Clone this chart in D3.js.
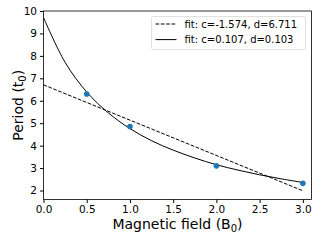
<!DOCTYPE html>
<html>
<head>
<meta charset="utf-8">
<title>Period vs field</title>
<script src="https://cdn.jsdelivr.net/npm/d3@7"></script>
<style>
  body { margin: 0; background: #fff; }
  svg text { font-family: "DejaVu Sans", sans-serif; fill: #000; }
  .tick text { font-size: 10.5px; }
  .tick line { stroke: #000; }
  .domain { display: none; }
</style>
</head>
<body>
<div id="chart"></div>
<script>
// measured points
var fieldB = [0.5, 1.0, 2.0, 3.0];
var periodT = [6.3, 4.85, 3.1, 2.32];

// fit 1 (dashed, linear) read at the ends
var linX = [0, 3.0];
var linY = [6.71, 1.99];

// fit 2 (solid)
var curveX = [0, 0.25, 0.5, 0.75, 1.0, 1.25, 1.5, 1.75, 2.0, 2.25, 2.5, 2.75, 3.0];
var curveY = [9.71, 7.71, 6.39, 5.46, 4.76, 4.22, 3.8, 3.45, 3.15, 2.91, 2.7, 2.52, 2.36];

var legendLabels = ['fit: c=-1.574, d=6.711', 'fit: c=0.107, d=0.103'];
var xTicks = [0, 0.5, 1.0, 1.5, 2.0, 2.5, 3.0];
var yTicks = [2, 3, 4, 5, 6, 7, 8, 9, 10];

var width = 321, height = 241;
var margin = { left: 43.5, top: 11, right: 9.5, bottom: 41.5 };
var w = width - margin.left - margin.right;
var h = height - margin.top - margin.bottom;

var svg = d3.select('#chart').append('svg')
    .attr('width', width).attr('height', height);
var g = svg.append('g')
    .attr('transform', 'translate(' + margin.left + ',' + margin.top + ')');

var x = d3.scaleLinear().domain([0, 3.1]).range([0, w]);
var y = d3.scaleLinear().domain([1.6, 10.0]).range([h, 0]);

g.append('g')
    .attr('transform', 'translate(0,' + h + ')')
    .call(d3.axisBottom(x).tickValues(xTicks).tickFormat(d3.format('.1f')).tickSize(3.5).tickPadding(3));
g.append('g')
    .call(d3.axisLeft(y).tickValues(yTicks).tickFormat(d3.format('d')).tickSize(3.5).tickPadding(3));

var line = d3.line()
    .x(function(d) { return x(d[0]); })
    .y(function(d) { return y(d[1]); });

g.append('path')
    .datum(linX.map(function(v, i) { return [v, linY[i]]; }))
    .attr('d', line)
    .attr('fill', 'none').attr('stroke', '#000')
    .attr('stroke-width', 1).attr('stroke-dasharray', '3.7,1.6');

g.append('path')
    .datum(curveX.map(function(v, i) { return [v, curveY[i]]; }))
    .attr('d', line.curve(d3.curveCatmullRom))
    .attr('fill', 'none').attr('stroke', '#000')
    .attr('stroke-width', 1);

g.selectAll('circle')
    .data(fieldB)
    .enter().append('circle')
    .attr('cx', function(d) { return x(d); })
    .attr('cy', function(d, i) { return y(periodT[i]); })
    .attr('r', 2.8)
    .attr('fill', '#1f77b4');

// frame
g.append('rect')
    .attr('width', w).attr('height', h)
    .attr('fill', 'none').attr('stroke', '#000').attr('stroke-width', 0.8);

// legend
var lg = svg.append('g').attr('transform', 'translate(151.5,16.5)');
lg.append('rect')
    .attr('width', 154).attr('height', 33).attr('rx', 2)
    .attr('fill', '#fff').attr('fill-opacity', 0.8)
    .attr('stroke', '#d8d8d8').attr('stroke-width', 0.8);
legendLabels.forEach(function(t, i) {
    var yy = 7.5 + i * 15.6;
    lg.append('line')
        .attr('x1', 4).attr('x2', 25).attr('y1', yy).attr('y2', yy)
        .attr('stroke', '#000').attr('stroke-width', 1)
        .attr('stroke-dasharray', i === 0 ? '3.7,1.6' : null);
    lg.append('text')
        .attr('x', 33).attr('y', yy + 3.6)
        .style('font-size', '10px')
        .text(t);
});

// axis labels
var xl = svg.append('text')
    .attr('x', margin.left + w / 2).attr('y', 228.5)
    .attr('text-anchor', 'middle')
    .style('font-size', '14px');
xl.append('tspan').text('Magnetic field (B');
xl.append('tspan').attr('dy', 3).style('font-size', '10px').text('0');
xl.append('tspan').attr('dy', -3).text(')');

var yl = svg.append('text')
    .attr('transform', 'translate(23,' + (margin.top + h / 2) + ') rotate(-90)')
    .attr('text-anchor', 'middle')
    .style('font-size', '14px');
yl.append('tspan').text('Period (t');
yl.append('tspan').attr('dy', 3).style('font-size', '10px').text('0');
yl.append('tspan').attr('dy', -3).text(')');
</script>
</body>
</html>
